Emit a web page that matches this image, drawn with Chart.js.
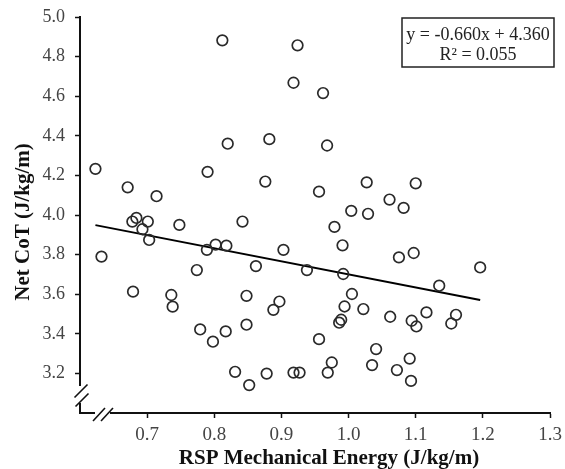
<!DOCTYPE html>
<html><head><meta charset="utf-8">
<script src="https://cdn.jsdelivr.net/npm/chart.js@4/dist/chart.umd.min.js"></script>
<style>html,body{margin:0;padding:0;background:#fff}#wrap{width:565px;height:469px;position:relative}</style>
</head><body><div id="wrap"><canvas id="c" width="565" height="469"></canvas></div>
<script>
// RSP mechanical energy (J/kg/m)
const mechEnergy = [
  0.623,0.632,0.671,0.678,0.684,0.679,0.693,0.701,0.703,0.714,
  0.736,0.738,0.748,0.774,0.779,0.789,0.790,0.798,0.802,0.812,
  0.817,0.818,0.820,0.831,0.842,0.848,0.848,0.852,0.862,0.876,
  0.878,0.882,0.888,0.897,0.903,0.918,0.918,0.924,0.927,0.938,
  0.956,0.956,0.962,0.968,0.969,0.975,0.979,0.986,0.989,0.991,
  0.992,0.994,1.004,1.005,1.022,1.027,1.029,1.035,1.041,1.061,
  1.062,1.072,1.075,1.082,1.091,1.093,1.094,1.097,1.100,1.101,
  1.116,1.135,1.153,1.160,1.196
];
// Net CoT (J/kg/m)
const netCoT = [
  4.233,3.790,4.140,3.967,3.985,3.613,3.928,3.967,3.874,4.095,
  3.596,3.537,3.950,3.722,3.422,3.824,4.218,3.360,3.850,4.882,
  3.412,3.845,4.360,3.208,3.967,3.592,3.446,3.141,3.742,4.169,
  3.199,4.383,3.521,3.563,3.824,4.668,3.204,4.857,3.204,3.722,
  4.118,3.373,4.616,4.351,3.204,3.255,3.940,3.456,3.471,3.847,
  3.702,3.538,4.021,3.601,3.525,4.165,4.006,3.242,3.323,4.078,
  3.486,3.217,3.786,4.036,3.275,3.162,3.466,3.808,4.160,3.437,
  3.508,3.643,3.452,3.496,3.735
];
const xTickValues = [0.7,0.8,0.9,1.0,1.1,1.2,1.3];
const yTickValues = [3.2,3.4,3.6,3.8,4.0,4.2,4.4,4.6,4.8,5.0];
const slope = -0.660, intercept = 4.360, rSquared = 0.055;
const xTitle = 'RSP Mechanical Energy (J/kg/m)';
const yTitle = 'Net CoT (J/kg/m)';
const eqText = 'y = ' + slope.toFixed(3) + 'x + ' + intercept.toFixed(3);
const r2Text = 'R\u00B2 = ' + rSquared.toFixed(3);

const points = mechEnergy.map((x, i) => ({x: x, y: netCoT[i]}));
const xMin = Math.min(...mechEnergy), xMax = Math.max(...mechEnergy);
const fitLine = [xMin, xMax].map(x => ({x: x, y: slope * x + intercept}));

const SERIF = '"Liberation Serif", "Times New Roman", serif';
const near = (a, b) => Math.abs(a - b) < 1e-6;

const decor = {
  id: 'decor',
  afterDraw(chart) {
    const {ctx, chartArea: a} = chart;
    const L = a.left, B = a.bottom, R = a.right, T = a.top;
    ctx.save();
    // axis breaks: gaps
    ctx.fillStyle = '#fff';
    ctx.fillRect(L - 3, B - 27, 6, 17);
    ctx.fillRect(L + 15, B - 3, 15, 6);
    ctx.strokeStyle = '#111';
    ctx.lineWidth = 1.6;
    const slash = (cx, cy, dx, dy) => {
      ctx.beginPath();
      ctx.moveTo(cx - dx, cy + dy);
      ctx.lineTo(cx + dx, cy - dy);
      ctx.stroke();
    };
    slash(L + 1, B - 22, 6.5, 6.5);
    slash(L + 2, B - 13, 6.5, 6.5);
    slash(L + 19, B + 1.5, 6, 6.5);
    slash(L + 27, B + 1.5, 6, 6.5);
    // equation box
    ctx.lineWidth = 1.5;
    ctx.strokeStyle = '#222';
    ctx.strokeRect(R - 148, T + 1, 152, 49);
    ctx.fillStyle = '#222';
    ctx.font = '18px ' + SERIF;
    ctx.textAlign = 'center';
    ctx.textBaseline = 'middle';
    ctx.fillText(eqText, R - 72, T + 18);
    ctx.fillText(r2Text, R - 72, T + 38);
    // axis titles
    ctx.fillStyle = '#111';
    ctx.font = 'bold 21px ' + SERIF;
    ctx.fillText(xTitle, (L + R) / 2 + 14, 459);
    ctx.translate(24, (T + B) / 2 + 7);
    ctx.rotate(-Math.PI / 2);
    ctx.fillText(yTitle, 0, 0);
    ctx.restore();
  }
};

new Chart(document.getElementById('c'), {
  type: 'scatter',
  data: {
    datasets: [
      {
        label: 'Fit',
        data: fitLine,
        showLine: true,
        borderColor: '#000',
        borderWidth: 2,
        pointRadius: 0,
        order: 2
      },
      {
        label: 'Data',
        data: points,
        pointStyle: 'circle',
        pointRadius: 5.3,
        pointBorderWidth: 1.7,
        borderColor: '#2a2a2a',
        backgroundColor: 'rgba(0,0,0,0)',
        order: 1
      }
    ]
  },
  options: {
    responsive: false,
    devicePixelRatio: 1,
    animation: false,
    events: [],
    layout: {padding: {left: 0, right: 15, top: 17, bottom: 0}},
    plugins: {legend: {display: false}, tooltip: {enabled: false}},
    scales: {
      x: {
        type: 'linear',
        min: 0.6, max: 1.3,
        afterFit: s => { s.height = 56; s.paddingLeft = 0; s.paddingRight = 0; },
        afterBuildTicks: s => { s.ticks = [0.6].concat(xTickValues).map(v => ({value: v})); },
        ticks: {
          font: {family: SERIF, size: 19},
          color: '#444',
          padding: 6,
          callback: v => near(v, 0.6) ? '' : Number(v).toFixed(1)
        },
        grid: {
          drawOnChartArea: false,
          drawTicks: true,
          tickLength: 5,
          tickWidth: 1.5,
          tickColor: c => (c.tick && near(c.tick.value, 0.6)) ? 'rgba(0,0,0,0)' : '#111'
        },
        border: {display: true, color: '#111', width: 2}
      },
      y: {
        type: 'linear',
        min: 3.0, max: 5.0,
        afterFit: s => { s.width = 80; s.paddingTop = 0; s.paddingBottom = 0; },
        afterBuildTicks: s => { s.ticks = [3.0].concat(yTickValues).map(v => ({value: v})); },
        ticks: {
          font: {family: SERIF, size: 18},
          color: '#444',
          padding: 10,
          callback: v => near(v, 3.0) ? '' : Number(v).toFixed(1)
        },
        grid: {
          drawOnChartArea: false,
          drawTicks: true,
          tickLength: 5,
          tickWidth: 1.5,
          tickColor: c => (c.tick && near(c.tick.value, 3.0)) ? 'rgba(0,0,0,0)' : '#111'
        },
        border: {display: true, color: '#111', width: 2}
      }
    }
  },
  plugins: [decor]
});
</script>
</body></html>
